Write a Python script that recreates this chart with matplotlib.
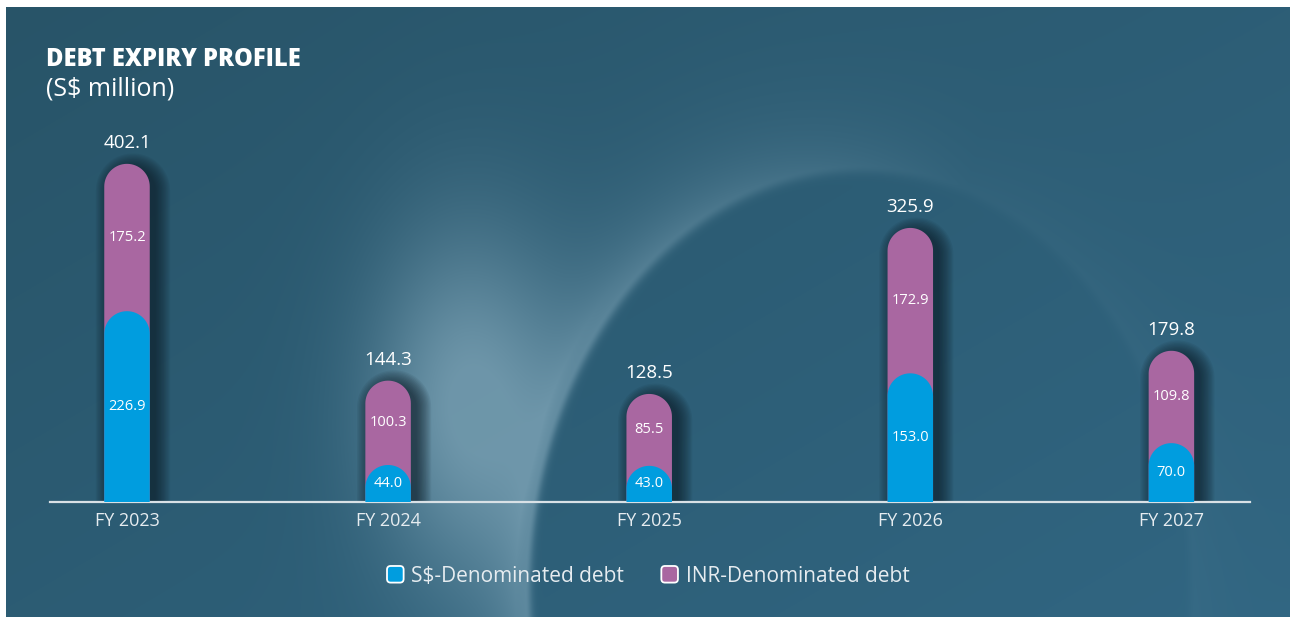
import numpy as np
import matplotlib.pyplot as plt
from matplotlib.patches import Polygon, FancyBboxPatch, Patch
from matplotlib.legend_handler import HandlerPatch

years = ["FY 2023", "FY 2024", "FY 2025", "FY 2026", "FY 2027"]
sgd_debt = [226.9, 44.0, 43.0, 153.0, 70.0]
inr_debt = [175.2, 100.3, 85.5, 172.9, 109.8]
totals = [402.1, 144.3, 128.5, 325.9, 179.8]

BLUE = "#009ddf"
PURPLE = "#a967a1"
FONT = ["Open Sans", "DejaVu Sans"]

W_PX, H_PX = 1290, 619
fig = plt.figure(figsize=(W_PX / 100, H_PX / 100), dpi=100)
fig.patch.set_facecolor("white")

# ---- backdrop: teal panel with a soft light swirl ----
bg = fig.add_axes([6 / W_PX, 2 / H_PX, 1284 / W_PX, 610 / H_PX])
bg.set_axis_off()
ph, pw = 610, 1284
yy, xx = np.mgrid[0:ph, 0:pw].astype(float)
X, Y = xx + 6, yy + 7
t = np.clip(0.55 * X / W_PX + 0.45 * Y / H_PX, 0, 1)[..., None]
c0 = np.array([40, 84, 104]) / 255
c1 = np.array([49, 102, 130]) / 255
img = c0 * (1 - t) + c1 * t

cx, cy, rx, ry = 860, 590, 335, 425
r = np.sqrt(((X - cx) / rx) ** 2 + ((Y - cy) / ry) ** 2)
ang = np.arctan2(Y - cy, X - cx)
outside = np.where(r > 1, np.exp(-(r - 1) / 0.12), np.exp(-((1 - r) / 0.02) ** 2))
side = np.clip(-np.cos(ang) * 0.9 + 0.35, 0.12, 1.0)
rim = outside * side * 0.42
blob = np.exp(-(((X - 465) / 95) ** 2 + ((Y - 400) / 170) ** 2)) * 0.6
blob *= np.clip((r - 0.98) / 0.05, 0, 1)
light = np.clip(rim + blob, 0, 0.62)[..., None]
hi = np.array([150, 185, 202]) / 255
img = img * (1 - light) + hi * light
bg.imshow(img, aspect="auto", interpolation="bilinear")

# ---- bars ----
ax = fig.add_axes([50 / W_PX, 117 / H_PX, 1200 / W_PX, 495 / H_PX])
ax.set_facecolor("none")
px_x = 261.1          # pixels per category step
px_y = 0.841          # pixels per S$ million
ax.set_xlim(-77 / px_x, (1200 - 77) / px_x)
ax.set_ylim(0, 495 / px_y)

x = np.arange(len(years))
bw = 45.5 / px_x
cap_rx = bw / 2
cap_ry = 22.75 / px_y


def pill(xc, top, half_w, cap_h):
    th = np.linspace(np.pi, 0, 40)
    pts = [(xc - half_w, 0), (xc - half_w, top - cap_h)]
    pts += list(zip(xc + half_w * np.cos(th), top - cap_h + cap_h * np.sin(th)))
    pts += [(xc + half_w, top - cap_h), (xc + half_w, 0)]
    return np.array(pts)


for i in x:
    top = sgd_debt[i] + inr_debt[i]
    # blurred drop shadow to the right
    for k in range(12):
        e = k * 1.3
        sx = i + 6 / px_x
        poly = pill(sx, top - 4 / px_y + e / px_y, cap_rx + e / px_x,
                    cap_ry + e / px_y)
        ax.add_patch(Polygon(poly, closed=True, fc="#0d1c26", ec="none",
                             alpha=0.075, zorder=1))
    ax.add_patch(Polygon(pill(i, top, cap_rx, cap_ry), closed=True,
                         fc=PURPLE, ec="none", zorder=2))
    ax.add_patch(Polygon(pill(i, sgd_debt[i], cap_rx, cap_ry), closed=True,
                         fc=BLUE, ec="none", zorder=3))

    ax.text(i, sgd_debt[i] / 2, f"{sgd_debt[i]:.1f}", ha="center", va="center",
            color="white", fontsize=10.5, family=FONT, zorder=4)
    ax.text(i, sgd_debt[i] + inr_debt[i] / 2, f"{inr_debt[i]:.1f}", ha="center",
            va="center", color="white", fontsize=10.5, family=FONT, zorder=4)
    ax.annotate(f"{totals[i]:.1f}", (i, top), xytext=(0, 15),
                textcoords="offset points", ha="center", va="center",
                color="white", fontsize=13.5, family=FONT)
    ax.annotate(years[i], (i, 0), xytext=(0, -14), textcoords="offset points",
                ha="center", va="center", color="#e6ecf0", fontsize=13,
                family=FONT, annotation_clip=False)

for s in ["top", "right", "left"]:
    ax.spines[s].set_visible(False)
ax.spines["bottom"].set_color("#d9e1e6")
ax.spines["bottom"].set_linewidth(1.6)
ax.set_xticks([])
ax.set_yticks([])

# ---- titles ----
fig.text(46 / W_PX, 1 - 66 / H_PX, "DEBT EXPIRY PROFILE", color="white",
         fontsize=17, fontweight="heavy", family=FONT, va="baseline")
fig.text(46 / W_PX, 1 - 95 / H_PX, "(S$ million)", color="white",
         fontsize=18, family=FONT, va="baseline")


# ---- legend with rounded swatches ----
class RoundSwatch(HandlerPatch):
    def create_artists(self, legend, orig_handle, xdescent, ydescent,
                       width, height, fontsize, trans):
        s = min(width, height)
        box = FancyBboxPatch((-xdescent + (width - s) / 2, -ydescent + (height - s) / 2),
                             s, s, boxstyle=f"round,pad=0,rounding_size={s * 0.22}",
                             fc=orig_handle.get_facecolor(), ec="white", lw=1.3,
                             transform=trans)
        return [box]


handles = [Patch(fc=BLUE, label="S$-Denominated debt"),
           Patch(fc=PURPLE, label="INR-Denominated debt")]
leg = fig.legend(handles=handles, loc="center", bbox_to_anchor=(648 / W_PX, 1 - 576 / H_PX),
                 ncol=2, frameon=False, handlelength=0.85,
                 handleheight=0.85, handletextpad=0.35, columnspacing=1.75,
                 handler_map={Patch: RoundSwatch()},
                 prop={"family": FONT, "size": 15})
for txt in leg.get_texts():
    txt.set_color("#e6ecf0")

fig.savefig("out.png", dpi=100)
